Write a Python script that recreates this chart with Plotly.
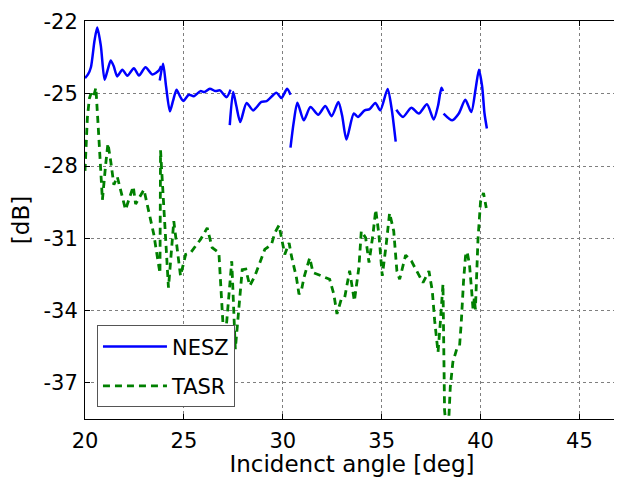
import plotly.graph_objects as go

# ---------------- data ----------------
nesz_x = [20.0, 20.15, 20.3, 20.48, 20.62, 20.8, 20.99, 21.15, 21.3, 21.45, 21.63, 21.89, 22.14, 22.47, 22.73, 23.06, 23.4, 23.74, 23.85,
          None,
          23.78, 23.95, 24.1, 24.29, 24.45, 24.63, 24.8, 24.97, 25.25, 25.5, 25.84, 26.04, 26.31, 26.6, 26.82, 27.16, 27.36,
          None,
          27.32, 27.49, 27.65, 27.85, 28.17, 28.5, 28.92, 29.18, 29.68, 29.93, 30.22, 30.39,
          None,
          30.39, 30.55, 30.74, 31.06, 31.4, 31.79, 32.15, 32.47, 32.81, 33.0, 33.22, 33.59, 33.8, 34.14, 34.39, 34.68, 34.93, 35.3, 35.5, 35.71,
          None,
          35.74, 36.08, 36.5, 36.88, 37.29, 37.63, 37.85, 38.02, 38.1,
          None,
          38.13, 38.57, 38.9, 39.23, 39.53, 39.75, 39.92, 40.08, 40.2, 40.32]
nesz_y = [-24.35, -24.2, -23.9, -22.8, -22.25, -23.0, -24.42, -24.0, -23.62, -23.85, -24.28, -24.0, -24.25, -23.94, -24.24, -23.9, -24.2, -24.03, -23.85,
          None,
          -24.45, -23.75, -24.7, -25.73, -25.3, -24.83, -25.1, -25.3, -25.04, -25.1, -24.89, -24.93, -24.79, -24.89, -24.86, -25.14, -24.83,
          None,
          -26.3, -24.93, -25.5, -26.17, -25.38, -25.69, -25.34, -25.31, -24.96, -25.18, -24.79, -25.04,
          None,
          -27.24, -26.2, -25.37, -26.1, -25.55, -25.87, -25.51, -25.93, -25.34, -25.9, -26.9, -25.82, -25.96, -25.69, -25.64, -25.38, -25.69, -24.8, -25.6, -26.99,
          None,
          -25.66, -25.96, -25.58, -25.82, -25.44, -26.07, -25.5, -24.75, -24.89,
          None,
          -25.82, -26.1, -25.82, -25.25, -25.76, -24.8, -24.0, -24.7, -25.82, -26.44]

tasr_x = [20.0, 20.12, 20.22, 20.3, 20.42, 20.55, 20.7, 20.88, 21.04, 21.16, 21.3, 21.46, 21.63, 22.05, 22.44, 22.56, 22.98,
          23.32, 23.48, 23.69, 23.79, 23.82, 24.22, 24.49, 24.83, 25.09, 25.34, 25.59, 25.84, 26.18, 26.43, 26.77,
          27.05, 27.42, 27.6, 27.95, 28.13, 28.33, 28.59, 28.84, 29.09, 29.43, 29.6, 29.81, 29.93, 30.1, 30.32, 30.44,
          30.69, 30.82, 30.94, 31.07, 31.36, 31.53, 31.95, 32.37, 32.58, 32.74, 32.96, 33.13, 33.38, 33.62, 33.85, 33.97,
          34.19, 34.36, 34.56, 34.7, 34.86, 35.03, 35.23, 35.4, 35.61, 35.77, 35.91, 36.04, 36.21, 36.5, 36.83, 37.09,
          37.39, 37.56, 37.68, 37.85, 37.96, 38.1, 38.18, 38.3, 38.4, 38.47, 38.6, 38.8, 38.94, 39.02, 39.14, 39.24,
          39.32, 39.44, 39.55, 39.62, 39.68, 39.74, 39.87, 40.0, 40.15, 40.29]
tasr_y = [-28.2, -26.0, -25.2, -25.0, -25.15, -24.75, -26.8, -29.4, -27.98, -27.06, -27.8, -28.78, -28.44, -29.81, -28.85, -29.58, -28.98,
          -30.16, -30.84, -31.94, -32.45, -27.35, -33.05, -30.29, -32.56, -31.67, -31.6, -31.32, -31.05, -30.57, -31.39, -31.6,
          -35.6, -31.95, -35.6, -32.3, -32.28, -32.97, -32.56, -32.01, -31.46, -31.25, -30.77, -30.46, -30.98, -31.67, -31.19, -31.74,
          -32.63, -33.32, -33.18, -32.63, -31.81, -32.42, -32.56, -32.7, -33.32, -34.14, -33.52, -33.46, -32.35, -33.6, -32.2, -30.7,
          -30.98, -32.01, -30.84, -29.81, -30.84, -32.56, -31.25, -29.95, -30.7, -32.36, -32.7, -32.25, -31.7, -31.94, -32.42, -32.84,
          -32.36, -33.18, -34.42, -35.73, -34.56, -32.9, -38.13, -39.2, -38.4, -37.17, -36.14, -35.59, -35.45, -34.56, -32.77, -31.74,
          -31.56, -32.08, -33.18, -33.95, -33.5, -33.95, -31.05, -29.47, -29.12, -29.74]

x_ticks = [20, 25, 30, 35, 40, 45]
x_tick_labels = ["20", "25", "30", "35", "40", "45"]
y_ticks = [-37, -34, -31, -28, -25, -22]
y_tick_labels = ["-37", "-34", "-31", "-28", "-25", "-22"]

FONT = "DejaVu Sans"

fig = go.Figure()
fig.add_trace(go.Scatter(
    x=nesz_x, y=nesz_y, mode="lines", name="NESZ", legendgroup="a",
    line=dict(color="#0000ff", width=2.5, shape="spline", smoothing=0.7),
    connectgaps=False,
))
fig.add_trace(go.Scatter(
    x=tasr_x, y=tasr_y, mode="lines", name="TASR", legendgroup="b",
    line=dict(color="#008000", width=2.8, dash="7px,5px"),
))

axis_common = dict(
    showline=True, linecolor="black", linewidth=1, mirror="ticks",
    ticks="inside", ticklen=5, tickcolor="black",
    showgrid=True, gridcolor="#7f7f7f", gridwidth=1, griddash="dot",
    zeroline=False, tickfont=dict(family=FONT, size=21, color="black"),
    ticklabeloverflow="allow",
)

fig.update_xaxes(
    range=[20, 47], tickvals=x_ticks, ticktext=x_tick_labels, ticklabelstandoff=3,
    title=dict(text="Incidenct angle [deg]", font=dict(family=FONT, size=23, color="black"), standoff=2),
    **axis_common,
)
fig.update_yaxes(
    range=[-38.5, -21.98], tickvals=y_ticks, ticktext=y_tick_labels, ticklabelstandoff=2,
    title=dict(text="[dB]", font=dict(family=FONT, size=23, color="black"), standoff=8),
    **axis_common,
)

# page body has an 8px margin, so the figure is sized/offset to fit the 622x477 window
fig.update_layout(
    width=614, height=469,
    margin=dict(l=77, r=2, t=11, b=58),
    paper_bgcolor="white", plot_bgcolor="white",
    font=dict(family=FONT, color="black"),
    showlegend=True,
    legend=dict(
        x=0.0224, y=0.235, xanchor="left", yanchor="top",
        bgcolor="white", bordercolor="#555555", borderwidth=1,
        font=dict(family=FONT, size=21, color="black"),
        itemwidth=64, tracegroupgap=9, traceorder="grouped",
    ),
)

fig.write_html("out.html")
